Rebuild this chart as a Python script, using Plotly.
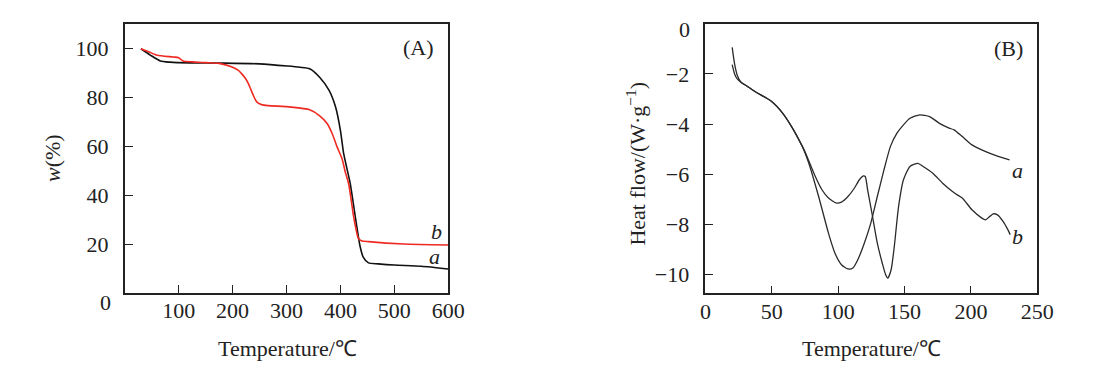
import plotly.graph_objects as go

# ---- Panel A: TG curves ----
tg_a_x = [30, 48, 66, 84, 120, 181, 250, 302, 325, 343, 361, 379, 391, 400, 406, 412, 418, 424, 430, 436, 442, 452, 470, 500, 550, 600]
tg_a_y = [100, 97.3, 95, 94.5, 94.2, 94.1, 93.8, 92.9, 92.4, 91.8, 88.4, 82.9, 76.1, 66.5, 57, 51, 45, 36.5, 27.7, 19.5, 14.8, 12.3, 11.9, 11.4, 10.9, 9.8]

tg_b_x = [30, 45, 60, 90, 100, 108, 125, 150, 175, 199, 210, 217, 224, 229.5, 234, 238.6, 243, 247.7, 255, 265.8, 308, 343, 361, 376, 385, 394, 403, 409, 415, 420, 424.5, 429, 433.4, 440, 452, 518, 600]
tg_b_y = [100, 98.7, 97.3, 96.6, 96.3, 95, 94.6, 94.3, 94.0, 92.5, 91.2, 89.7, 87.8, 85.6, 83.2, 80.8, 78.8, 77.7, 77.0, 76.7, 76.1, 75, 72.6, 69.2, 65.1, 59.7, 54.9, 49.5, 44.9, 38, 31.2, 26, 22.3, 21.3, 21, 20, 19.6]

# ---- Panel B: DSC curves ----
dsc_a_x = [20.2, 22, 24, 26.8, 31.2, 38.6, 49.9, 58.3, 65.6, 73, 77.9, 85.3, 92.7, 97.6, 102.5, 107.4, 111.1, 114.8, 119.7, 124.6, 129.5, 134.5, 139.4, 144.3, 149.2, 154.1, 161.5, 168.9, 176.3, 183.6, 187.3, 193.5, 200.8, 210.7, 220.5, 229.1]
dsc_a_y = [-1.63, -2.0, -2.2, -2.33, -2.48, -2.74, -3.1, -3.57, -4.16, -4.89, -5.56, -6.89, -8.35, -9.15, -9.61, -9.78, -9.74, -9.41, -8.75, -7.95, -6.89, -5.83, -4.89, -4.36, -4.03, -3.77, -3.63, -3.7, -3.97, -4.16, -4.23, -4.5, -4.83, -5.09, -5.29, -5.43]

dsc_b_x = [20.2, 22, 24, 26.8, 31.2, 38.6, 49.9, 58.3, 65.6, 73, 75.5, 82.8, 87.8, 92.7, 98.8, 102.5, 107.4, 112.3, 116, 119.2, 120.5, 122.2, 125.9, 129.5, 133.2, 135.7, 137.4, 139.9, 142.3, 145.5, 149.2, 154.1, 160, 164, 171.3, 178.7, 186.1, 189, 193.5, 200.8, 208.2, 211, 216.8, 220, 224.2, 227.9, 229.6]
dsc_b_y = [-0.94, -1.6, -2.05, -2.33, -2.48, -2.74, -3.1, -3.57, -4.16, -4.89, -5.16, -6.09, -6.62, -6.95, -7.15, -7.11, -6.89, -6.55, -6.22, -6.07, -6.1, -6.62, -7.68, -8.75, -9.54, -10.0, -10.14, -9.81, -8.88, -7.29, -6.22, -5.69, -5.57, -5.69, -5.96, -6.36, -6.69, -6.8, -6.95, -7.42, -7.75, -7.82, -7.58, -7.62, -7.88, -8.22, -8.41]

tg_xticks = [100, 200, 300, 400, 500, 600]
tg_yticks = [20, 40, 60, 80, 100]
dsc_xticks = [0, 50, 100, 150, 200, 250]
dsc_yticks = [-2, -4, -6, -8, -10]
dsc_yticktext = ["\u22122", "\u22124", "\u22126", "\u22128", "\u221210"]

FONT = "Liberation Serif, Times New Roman, serif"
W, H = 1101, 386


def px(x):
    return x / W


def py(y):
    return 1 - y / H


fig = go.Figure()
fig.add_trace(go.Scatter(x=tg_a_x, y=tg_a_y, mode="lines", line=dict(color="#111111", width=1.6, shape="spline", smoothing=0.6), xaxis="x", yaxis="y"))
fig.add_trace(go.Scatter(x=tg_b_x, y=tg_b_y, mode="lines", line=dict(color="#ee2a22", width=1.6, shape="spline", smoothing=0.6), xaxis="x", yaxis="y"))
fig.add_trace(go.Scatter(x=dsc_a_x, y=dsc_a_y, mode="lines", line=dict(color="#2a2a2a", width=1.3, shape="spline", smoothing=0.6), xaxis="x2", yaxis="y2"))
fig.add_trace(go.Scatter(x=dsc_b_x, y=dsc_b_y, mode="lines", line=dict(color="#2a2a2a", width=1.3, shape="spline", smoothing=0.6), xaxis="x2", yaxis="y2"))

tick_font = dict(family=FONT, size=22, color="#222")
axis_common = dict(showline=True, mirror=True, linecolor="#222", linewidth=1.6, ticks="inside", ticklen=8,
                   tickcolor="#222", tickwidth=1.2, showgrid=False, zeroline=False, tickfont=tick_font)

fig.update_layout(
    width=W, height=H, autosize=False,
    margin=dict(l=0, r=0, t=0, b=0),
    paper_bgcolor="white", plot_bgcolor="white",
    showlegend=False,
    xaxis=dict(domain=[px(121.3), px(451.7)], range=[0, 600], tickvals=tg_xticks, anchor="y", ticklabelstandoff=-3, **axis_common),
    yaxis=dict(domain=[py(292.9), py(24.3)], range=[0, 110], tickvals=tg_yticks, anchor="x", ticklabelstandoff=10, **axis_common),
    xaxis2=dict(domain=[px(714.3), px(1053.3)], range=[0, 250], tickvals=dsc_xticks, anchor="y2", ticklabelstandoff=-3, **axis_common),
    yaxis2=dict(domain=[py(293.3), py(23.8)], range=[-10.75, 0], tickvals=dsc_yticks, ticktext=dsc_yticktext,
                anchor="x2", ticklabelstandoff=10, **axis_common),
)

tf = dict(family=FONT, size=22, color="#222")
C = dict(showarrow=False, xanchor="center", yanchor="middle")
ann = [
    dict(text="Temperature/\u2103", x=px(287), y=py(348), xref="paper", yref="paper", font=tf, **C),
    dict(text="Temperature/\u2103", x=px(884), y=py(348), xref="paper", yref="paper", font=tf, **C),
    dict(text="<i>w</i>(%)", x=px(47), y=py(158), xref="paper", yref="paper", textangle=-90, font=tf, **C),
    dict(text="Heat flow/(W\u00b7g<sup>\u22121</sup>)", x=px(643), y=py(164), xref="paper", yref="paper", textangle=-90, font=tf, **C),
    # zero labels placed slightly below their axis corners, as in the original
    dict(text="0", x=px(109), y=0, xref="paper", yref="y", yshift=-10, xanchor="right", yanchor="middle", showarrow=False, font=tick_font),
    dict(text="0", x=px(701), y=0, xref="paper", yref="y2", yshift=-6, xanchor="right", yanchor="middle", showarrow=False, font=tick_font),
    dict(text="(A)", x=544, y=100.4, xref="x", yref="y", font=tf, **C),
    dict(text="(B)", x=228.4, y=-1.0, xref="x2", yref="y2", font=tf, **C),
    dict(text="<i>b</i>", x=578.7, y=25.2, xref="x", yref="y", font=tf, **C),
    dict(text="<i>a</i>", x=575, y=15, xref="x", yref="y", font=tf, **C),
    dict(text="<i>a</i>", x=235, y=-5.86, xref="x2", yref="y2", font=tf, **C),
    dict(text="<i>b</i>", x=235, y=-8.5, xref="x2", yref="y2", font=tf, **C),
]
fig.update_layout(annotations=ann)

post = (
    "document.documentElement.style.margin='0';document.body.style.margin='0';"
    "document.body.style.overflow='hidden';"
    "var gd=document.getElementById('{plot_id}');"
    "Plotly.relayout(gd,{width:window.innerWidth,height:window.innerHeight});"
)
fig.write_html("out.html", config={"displayModeBar": False}, post_script=post)
